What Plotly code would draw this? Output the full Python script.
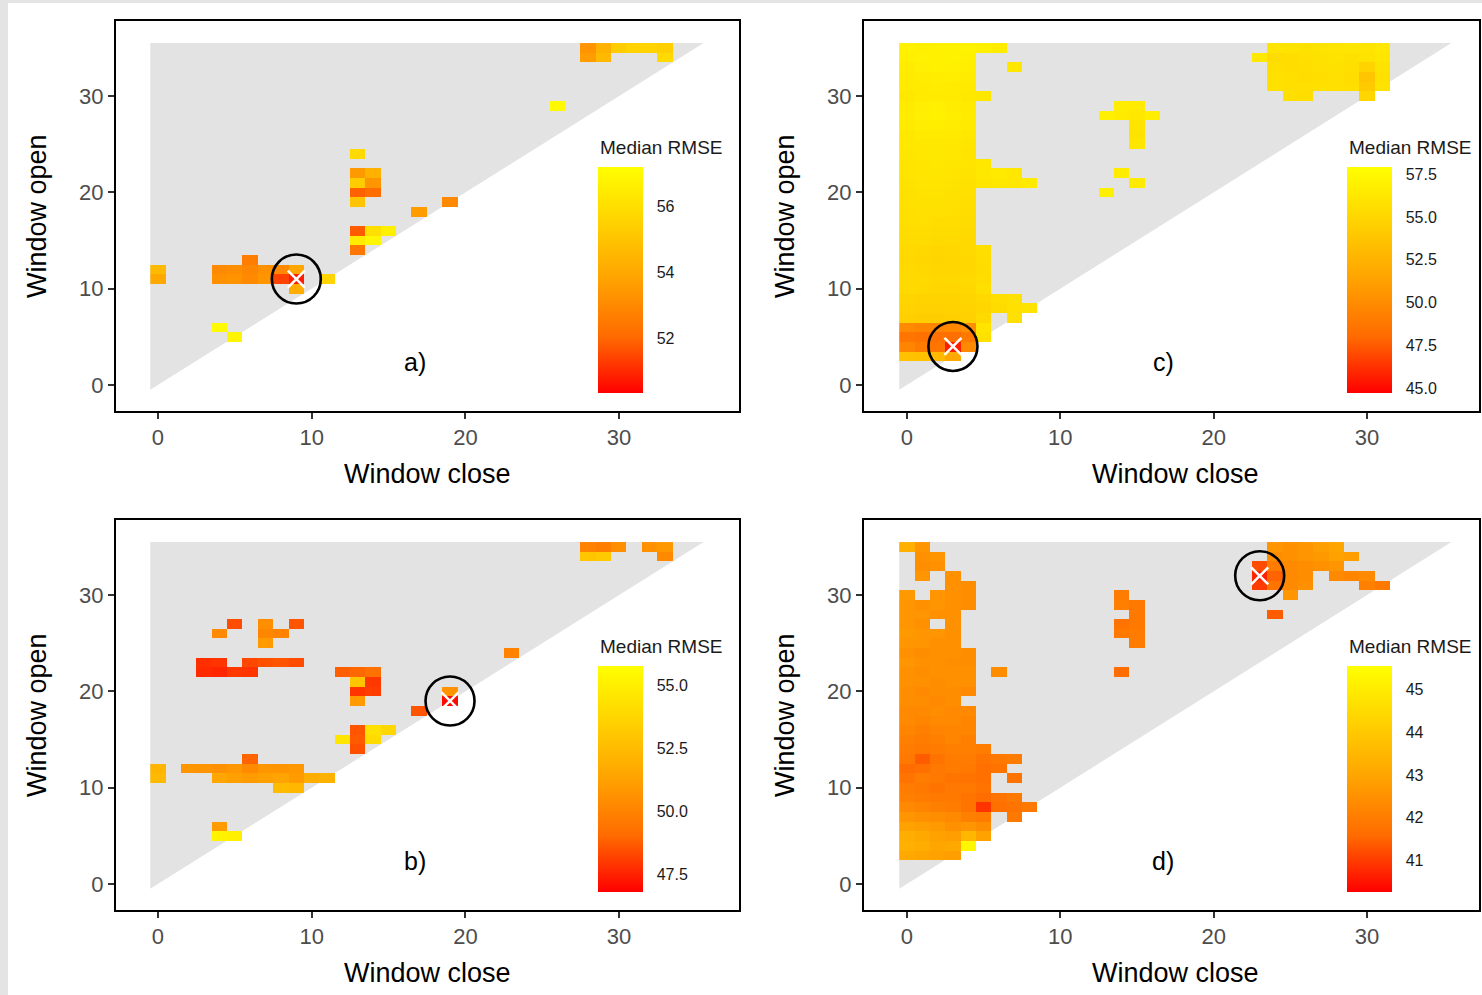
import numpy as np
import plotly.graph_objects as go

# ---------------- data ----------------
windows = list(range(36))          # window open / close indices
x_ticks = [0, 10, 20, 30]
y_ticks = [0, 10, 20, 30]
x_title = "Window close"
y_title = "Window open"
legend_title = "Median RMSE"
panel_labels = {"a": "a)", "b": "b)", "c": "c)", "d": "d)"}

# each row: window open, first window close, median RMSE per consecutive close (None = not shown)
a_open = [35, 34, 29, 24, 22, 21, 20, 19, 19, 18, 16, 15, 14, 13, 12, 12, 11, 11, 10, 6, 5]
a_start = [28, 28, 26, 13, 13, 13, 13, 13, 19, 17, 13, 13, 13, 6, 0, 4, 0, 4, 9, 4, 5]
a_rmse = [
    [53.3, 54.3, 55.3, 55.5, 55.6, 55.4],
    [53.6, 54.6, None, None, None, 55.8],
    [57.0],
    [55.8],
    [53.5, 54.3],
    [55.3, 53.4],
    [51.9, 52.1],
    [55.0],
    [53.0],
    [53.6],
    [51.8, 56.0, 56.6],
    [56.5, 56.9],
    [52.4],
    [52.6],
    [54.6],
    [53.0, 53.1, 52.9, 53.2, 53.0, 53.9],
    [54.0],
    [53.2, 53.3, 53.0, 53.4, 51.4, 50.8, None, 55.6],
    [54.2],
    [57.0],
    [56.8],
]
a_best = (9, 11)
a_cticks = [52, 54, 56]
a_crange = (50.34, 57.19)

b_open = [35, 34, 27, 26, 25, 24, 23, 22, 22, 21, 20, 20, 19, 19, 18, 16, 15, 14, 13, 12, 12, 11, 11, 10, 6, 5]
b_start = [28, 28, 5, 4, 7, 23, 3, 3, 12, 13, 13, 19, 13, 19, 17, 13, 12, 13, 6, 0, 2, 0, 4, 8, 4, 4]
b_rmse = [
    [50.0, 49.8, 50.5, None, 50.6, 50.9],
    [53.0, 53.2, None, None, None, 50.3],
    [48.4, None, 50.5, None, 48.6],
    [50.3, None, None, 50.2, 50.0],
    [51.0],
    [50.0],
    [47.8, 47.9, None, 48.3, 48.5, 48.6, 48.4],
    [47.7, 47.6, 48.0, 47.9],
    [48.8, 49.0, 49.3],
    [53.0, 48.0],
    [47.9, 48.1],
    [50.7],
    [51.0],
    [47.0],
    [48.6],
    [48.6, 54.3, 53.8],
    [54.5, 48.7, 54.0],
    [48.5],
    [48.9],
    [52.2],
    [50.8, 50.7, 50.6, 50.9, 50.3, 50.8, 50.7, 50.9],
    [52.4],
    [51.5, 51.2, 51.0, 51.2, 51.4, 51.0, 51.8, 52.0],
    [52.5, 52.3],
    [51.0],
    [55.2, 55.0],
]
b_best = (19, 19)
b_cticks = [47.5, 50.0, 52.5, 55.0]
b_crange = (46.82, 55.76)

c_open = [35, 34, 33, 32, 31, 30, 29, 28, 27, 26, 25, 24, 23, 22, 21, 20, 19, 18, 17, 16, 15,
          14, 13, 12, 11, 10, 9, 8, 7, 6, 5, 4, 3,
          35, 34, 33, 32, 31, 30,
          29, 28, 27, 26, 25, 22, 21, 20]
c_start = [0] * 33 + [24, 23, 24, 24, 24, 25, 14, 13, 15, 15, 15, 14, 15, 13]
c_rmse = [
    [56.9, 56.8, 56.9, 57.0, 57.0, 56.8, 56.6],
    [56.8, 56.9, 56.9, 57.0, 56.8],
    [56.6, 56.8, 56.9, 56.8, 56.7, None, None, 56.2],
    [56.5, 56.6, 56.7, 56.7, 56.6],
    [56.4, 56.5, 56.6, 56.5, 56.4],
    [56.3, 56.4, 56.5, 56.4, 56.3, 56.2],
    [56.5, 56.7, 56.8, 56.6, 56.4],
    [56.6, 56.8, 56.9, 56.7, 56.5],
    [56.5, 56.7, 56.7, 56.6, 56.4],
    [56.3, 56.4, 56.5, 56.4, 56.2],
    [56.2, 56.3, 56.3, 56.2, 56.1],
    [56.1, 56.2, 56.3, 56.2, 56.0],
    [56.0, 56.1, 56.2, 56.1, 56.0, 56.2],
    [56.0, 56.1, 56.1, 56.0, 55.9, 56.3, 56.4, 56.2],
    [55.9, 56.0, 56.0, 55.9, 55.8, 56.1, 56.3, 56.2, 56.4],
    [55.8, 55.9, 55.9, 55.8, 55.7],
    [55.7, 55.8, 55.8, 55.7, 55.6],
    [55.6, 55.7, 55.7, 55.6, 55.5],
    [55.6, 55.6, 55.5, 55.5, 55.4],
    [55.5, 55.5, 55.4, 55.4, 55.3],
    [55.4, 55.4, 55.3, 55.3, 55.2],
    [55.2, 55.1, 55.0, 55.1, 55.2, 55.6],
    [55.1, 55.0, 54.9, 55.0, 55.1, 55.5],
    [55.2, 55.1, 55.0, 55.0, 55.1, 55.4],
    [55.3, 55.2, 55.1, 55.1, 55.2, 55.5],
    [55.2, 55.1, 55.0, 55.0, 55.1, 55.6],
    [54.9, 54.8, 54.8, 54.8, 54.9, 55.2, 55.6, 55.8],
    [54.7, 54.6, 54.6, 54.7, 54.8, 55.0, 55.4, 55.7, 55.9],
    [54.5, 54.4, 54.4, 54.5, 54.6, 55.3, None, 55.6],
    [49.8, 49.6, 49.5, 49.7, 50.2, 56.0],
    [48.6, 48.4, 48.3, 48.2, 48.8, 55.8],
    [49.5, 49.0, 48.6, 45.6, 49.8],
    [53.5, 53.4, 53.0, 51.8],
    [56.0, 55.9, 55.8, 55.9, 56.0, 56.1, 56.0, 56.2],
    [56.3, 55.4, 55.5, 55.7, 55.8, 55.9, 55.8, 55.9, 56.1],
    [55.6, 55.5, 55.6, 55.7, 55.8, 55.6, 54.8, 55.9],
    [55.7, 55.6, 55.5, 55.6, 55.7, 55.5, 53.8, 55.8],
    [55.8, 55.6, 55.7, 55.8, 55.7, 55.6, 54.2, 55.9],
    [55.6, 55.5, None, None, None, 55.0],
    [56.6, 56.4],
    [56.8, 56.5, 56.2, 56.7],
    [56.0],
    [55.9],
    [56.1],
    [56.6],
    [56.5],
    [56.8],
]
c_best = (3, 4)
c_cticks = [45.0, 47.5, 50.0, 52.5, 55.0, 57.5]
c_crange = (44.71, 57.93)

d_open = [35, 34, 33, 32, 32, 31, 30, 30, 29, 28, 27, 27, 26, 25, 24, 23, 22, 22, 21, 20, 19, 18,
          17, 16, 15, 14, 13, 12, 11, 11, 10, 9, 8, 7, 7, 6, 5, 4, 3,
          35, 34, 33, 32, 32, 31, 31, 30, 28,
          30, 29, 28, 27, 26, 25, 22]
d_start = [0, 1, 1, 1, 3, 3, 0, 2, 0, 0, 0, 3, 0, 0, 0, 0, 0, 6, 0, 0, 0, 0,
           0, 0, 0, 0, 0, 0, 0, 7, 0, 0, 0, 0, 7, 0, 0, 0, 0,
           24, 24, 23, 23, 28, 23, 30, 25, 24,
           14, 14, 15, 14, 14, 15, 14]
d_rmse = [
    [43.3, 42.6],
    [42.5, 42.6],
    [42.4, 42.5],
    [42.6],
    [42.5],
    [42.5, 42.4],
    [42.7],
    [42.6, 42.5, 42.4],
    [42.6, 42.5, 42.6, 42.5, 42.4],
    [42.6, 42.6, 42.5, 42.5],
    [42.6, 42.5],
    [42.5],
    [42.7, 42.6, 42.6, 42.5],
    [42.6, 42.6, 42.5, 42.5],
    [42.5, 42.4, 42.5, 42.5, 42.4],
    [42.6, 42.5, 42.5, 42.4, 42.4],
    [42.5, 42.4, 42.5, 42.5, 42.5],
    [42.4],
    [42.5, 42.5, 42.4, 42.5, 42.5],
    [42.4, 42.3, 42.4, 42.4, 42.3],
    [42.4, 42.4, 42.3, 42.4],
    [42.3, 42.3, 42.4, 42.3, 42.3],
    [42.3, 42.2, 42.3, 42.3, 42.2],
    [42.2, 42.1, 42.2, 42.2, 42.2],
    [42.1, 42.0, 42.1, 42.2, 42.1],
    [42.0, 41.9, 42.0, 42.1, 42.1, 42.0],
    [41.9, 41.4, 41.8, 42.0, 42.0, 41.8, 41.9, 42.0],
    [41.6, 41.7, 41.9, 42.0, 41.9, 41.7, 41.8],
    [41.8, 42.0, 41.9, 41.8, 41.8, 41.7],
    [41.8],
    [42.0, 41.9, 41.8, 41.9, 41.9, 41.8],
    [42.1, 42.0, 41.9, 41.9, 41.8, 41.6, 41.8, 41.9],
    [42.3, 42.2, 42.1, 42.0, 41.8, 40.9, 41.7, 41.8, 41.9],
    [42.6, 42.5, 42.4, 42.3, 42.1, 42.0],
    [41.9],
    [42.9, 42.8, 42.7, 42.5, 42.6, 42.4],
    [43.2, 43.1, 42.9, 42.8, 43.5, 42.9],
    [43.3, 43.2, 43.0, 43.1, 45.3],
    [43.1, 43.0, 42.9, 42.8],
    [42.6, 42.5, 42.6, 42.8, 43.0],
    [42.4, 42.5, 42.6, 42.7, 42.9, 42.8],
    [41.2, 42.0, 42.3, 42.4, 42.5, 42.6],
    [40.7, 41.5, 42.3, 42.4],
    [42.3, 42.2, 42.3],
    [41.0, 41.8, 42.3, 42.5],
    [42.1, 41.9],
    [42.6],
    [41.4],
    [42.0],
    [42.1, 41.9],
    [41.9],
    [41.8, 41.9],
    [41.9, 42.0],
    [42.0],
    [41.6],
]
d_best = (23, 32)
d_cticks = [41, 42, 43, 44, 45]
d_crange = (40.27, 45.54)

# ---------------- styling / layout ----------------
W, H = 1482, 995
FONT = "Liberation Sans, Arial, Helvetica, sans-serif"
# red -> yellow gradient (Lab-like interpolation)
colorscale = [[0.0, "#ff0000"], [0.25, "#ff6b00"], [0.5, "#ffa200"], [0.75, "#ffd100"], [1.0, "#ffff00"]]

panels = [
    dict(key="a", open=a_open, start=a_start, rmse=a_rmse, best=a_best, cticks=a_cticks,
         crange=a_crange, fmt="d", box=(116, 739, 21, 411), xr=(-2.73, 37.8), cb=(598, 167, 393)),
    dict(key="c", open=c_open, start=c_start, rmse=c_rmse, best=c_best, cticks=c_cticks,
         crange=c_crange, fmt=".1f", box=(864, 1479, 21, 411), xr=(-2.80, 37.3), cb=(1347, 167, 393)),
    dict(key="b", open=b_open, start=b_start, rmse=b_rmse, best=b_best, cticks=b_cticks,
         crange=b_crange, fmt=".1f", box=(116, 739, 520, 910), xr=(-2.73, 37.8), cb=(598, 666, 892)),
    dict(key="d", open=d_open, start=d_start, rmse=d_rmse, best=d_best, cticks=d_cticks,
         crange=d_crange, fmt="d", box=(864, 1479, 520, 910), xr=(-2.80, 37.3), cb=(1347, 666, 892)),
]
yr = (-2.70, 37.79)

fig = go.Figure()
layout = dict(
    width=W, height=H, margin=dict(l=0, r=0, t=0, b=0),
    paper_bgcolor="white", plot_bgcolor="white", showlegend=False,
    font=dict(family=FONT), shapes=[], annotations=[],
)

n = len(windows)
for i, p in enumerate(panels):
    idx = "" if i == 0 else str(i + 1)
    xa, ya = "x" + idx, "y" + idx
    ca = "coloraxis" + idx
    x0, x1, y0, y1 = p["box"]

    # grid of median RMSE
    z = np.full((n, n), np.nan)
    for o, s, vals in zip(p["open"], p["start"], p["rmse"]):
        for k, v in enumerate(vals):
            if v is not None:
                z[windows.index(o), windows.index(s + k)] = v

    fig.add_trace(go.Heatmap(x=windows, y=windows, z=z, coloraxis=ca, xaxis=xa, yaxis=ya,
                             hoverongaps=False))
    bx, by = p["best"]
    fig.add_trace(go.Scatter(x=[bx], y=[by], mode="markers", xaxis=xa, yaxis=ya,
                             marker=dict(symbol="x-thin-open", size=17, color="white",
                                         line=dict(color="white", width=2.5))))
    fig.add_trace(go.Scatter(x=[bx], y=[by], mode="markers", xaxis=xa, yaxis=ya,
                             marker=dict(symbol="circle-open", size=49, color="black",
                                         line=dict(color="black", width=2.6))))

    # grey triangle of valid windows (open >= close)
    lo, hi = windows[0] - 0.5, windows[-1] + 0.5
    layout["shapes"].append(dict(type="path", xref=xa, yref=ya, layer="below",
                                 path=f"M {lo},{lo} L {lo},{hi} L {hi},{hi} Z",
                                 fillcolor="#e3e3e3", line=dict(width=0)))

    axis_common = dict(showgrid=False, zeroline=False, showline=True, mirror=True,
                       linecolor="black", linewidth=2, ticks="outside", ticklen=6,
                       tickwidth=1.5, tickcolor="#333333",
                       tickfont=dict(size=22, color="#4d4d4d", family=FONT))
    layout["xaxis" + idx] = dict(axis_common, domain=[x0 / W, x1 / W], range=list(p["xr"]),
                                 tickvals=x_ticks, anchor=ya)
    layout["yaxis" + idx] = dict(axis_common, domain=[1 - y1 / H, 1 - y0 / H], range=list(yr),
                                 tickvals=y_ticks, anchor=xa)

    cbx, cbt, cbb = p["cb"]
    layout[ca] = dict(cmin=p["crange"][0], cmax=p["crange"][1], colorscale=colorscale,
                      colorbar=dict(x=cbx / W, xanchor="left", xpad=0,
                                    y=1 - (cbt + cbb) / 2 / H, yanchor="middle", ypad=0,
                                    len=cbb - cbt, lenmode="pixels", thickness=45,
                                    thicknessmode="pixels", outlinewidth=0, borderwidth=0,
                                    tickvals=p["cticks"], tickformat=p["fmt"],
                                    ticks="outside", ticklen=11, tickcolor="rgba(255,255,255,0)",
                                    tickwidth=1,
                                    tickfont=dict(size=16, color="#1a1a1a", family=FONT)))
    # legend title
    layout["annotations"].append(dict(text=legend_title, xref="paper", yref="paper",
                                      x=cbx / W, y=1 - (cbt - 20) / H, xanchor="left",
                                      yanchor="middle", showarrow=False,
                                      font=dict(size=19, color="#1a1a1a", family=FONT)))
    # axis titles
    layout["annotations"].append(dict(text=x_title, xref="paper", yref="paper",
                                      x=(x0 + 311) / W, y=1 - (y1 + 63) / H, xanchor="center",
                                      yanchor="middle", showarrow=False,
                                      font=dict(size=27, color="black", family=FONT)))
    layout["annotations"].append(dict(text=y_title, xref="paper", yref="paper",
                                      x=(x0 - 79) / W, y=1 - (y0 + y1) / 2 / H, xanchor="center",
                                      yanchor="middle", textangle=-90, showarrow=False,
                                      font=dict(size=27, color="black", family=FONT)))
    # panel label
    layout["annotations"].append(dict(text=panel_labels[p["key"]], xref=xa, yref=ya,
                                      x=16.7, y=2.4, showarrow=False,
                                      font=dict(size=25, color="black", family=FONT)))

# thin grey frame at the left / top edge of the picture
layout["shapes"].append(dict(type="rect", xref="paper", yref="paper", x0=0, x1=8 / W, y0=0, y1=1,
                             fillcolor="#e4e4e4", line=dict(width=0), layer="below"))
layout["shapes"].append(dict(type="rect", xref="paper", yref="paper", x0=0, x1=1, y0=1 - 3 / H, y1=1,
                             fillcolor="#e4e4e4", line=dict(width=0), layer="below"))

fig.update_layout(**layout)
fig.write_html("out.html")
